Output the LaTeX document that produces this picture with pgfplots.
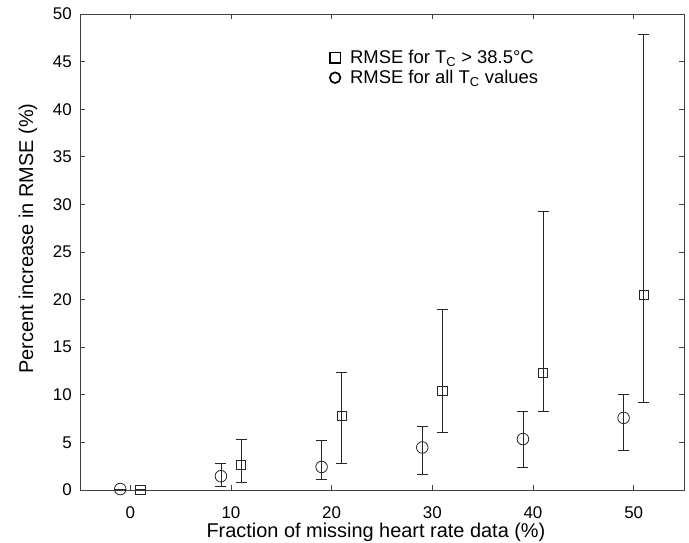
\documentclass[border=0pt]{standalone}
\usepackage{pgfplots}
\pgfplotsset{compat=1.18}
\usepackage{fontspec}
\setmainfont{Liberation Sans}
\begin{document}
\begin{tikzpicture}
\begin{axis}[
  name=ax,
  scale only axis,
  width=604bp, height=476bp,
  xmin=-5, xmax=55, ymin=0, ymax=50,
  xtick={0,10,20,30,40,50},
  ytick={0,5,10,15,20,25,30,35,40,45,50},
  tick align=inside,
  major tick length=5bp,
  axis line style={draw=black!75, line width=0.8pt},
  tick style={black!75, line width=0.8pt},
  /pgf/number format/assume math mode=true,
  ticklabel style={font=\fontsize{17}{20}\selectfont},
  yticklabel style={inner sep=0pt, xshift=-8bp},
  xticklabel style={inner sep=0pt, yshift=-16bp},
  xlabel={Fraction of missing heart rate data (\%)},
  ylabel={Percent increase in RMSE (\%)},
  every axis x label/.style={at={(axis description cs:0.49,-0.1008)}, anchor=base, inner sep=0pt,
    font=\fontsize{20}{24}\selectfont},
  every axis y label/.style={at={(axis description cs:-0.0778,0.528)}, anchor=base, rotate=90, inner sep=0pt,
    font=\fontsize{20}{24}\selectfont},
  legend style={at={(axis cs:19.8,46.4)}, anchor=north west, draw=none, fill=none,
    font=\fontsize{18.5}{21}\selectfont, row sep=1bp, inner sep=0pt,
    legend cell align=left},
  legend image code/.code={\draw[#1, mark size=5.3bp, mark options={line width=1.7pt, draw=black}] plot coordinates {(0,0)};
    \path[draw=none, fill=none] (-5.3bp,0) -- (13bp,0);},
]
\addplot[black!85, only marks, mark=square, mark size=4.6bp, line width=0.8pt,
  error bars/.cd, y dir=both, y explicit,
  error bar style={line width=0.8pt, black!85},
  error mark options={rotate=90, mark size=5.5bp, line width=0.8pt, black!85}]
coordinates {
  (1,0.05) += (0,0) -= (0,0)
  (11,2.65) += (0,2.62) -= (0,1.80)
  (21,7.8) += (0,4.6) -= (0,5.05)
  (31,10.45) += (0,8.55) -= (0,4.4)
  (41,12.3) += (0,17.0) -= (0,4.05)
  (51,20.5) += (0,27.4) -= (0,11.25)
};
\addlegendentry{RMSE for T\textsubscript{C} > 38.5°C}
\addplot[black!85, only marks, mark=o, mark size=5.8bp, line width=0.8pt,
  error bars/.cd, y dir=both, y explicit,
  error bar style={line width=0.8pt, black!85},
  error mark options={rotate=90, mark size=5.5bp, line width=0.8pt, black!85}]
coordinates {
  (-1,0.1) += (0,0) -= (0,0)
  (9,1.45) += (0,1.3) -= (0,1.1)
  (19,2.42) += (0,2.75) -= (0,1.35)
  (29,4.47) += (0,2.23) -= (0,2.87)
  (39,5.35) += (0,2.93) -= (0,2.95)
  (49,7.58) += (0,2.42) -= (0,3.4)
};
\addlegendentry{RMSE for all T\textsubscript{C} values}
\end{axis}
\pgfresetboundingbox
\path (ax.south west) ++(-80bp,-53bp) coordinate (bbA);
\path (ax.north east) ++(5bp,14bp) coordinate (bbB);
\path (bbA) rectangle (bbB);
\end{tikzpicture}
\end{document}
